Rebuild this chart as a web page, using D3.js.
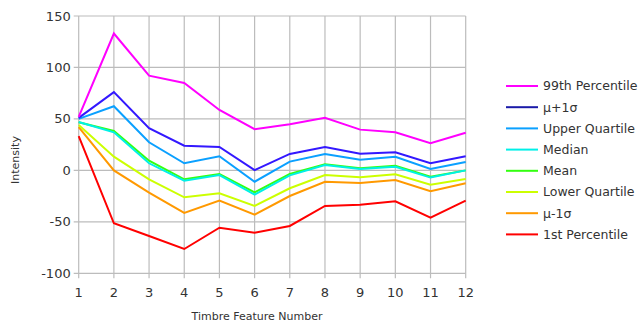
<!DOCTYPE html>
<html><head><meta charset="utf-8">
<script src="https://cdn.jsdelivr.net/npm/d3@7"></script>
<style>body{margin:0;background:#fff;}svg{display:block;font-family:"DejaVu Sans",sans-serif;}</style>
</head><body><svg id="c" width="642" height="324"></svg>
<script>
const features = [1,2,3,4,5,6,7,8,9,10,11,12];
const seriesNames = ["99th Percentile","μ+1σ","Upper Quartile","Median","Mean","Lower Quartile","μ-1σ","1st Percentile"];
const seriesColors = ["#ff00ff","#3318ff","#0aa0ff","#00f0e8","#33ff10","#ccff00","#ff9900","#ff0000"];
const p99   = [52,133,92,85,58.7,40,44.8,51,39.6,37,26.3,36.6];
const muP1  = [51,76,41,24,22.7,0.3,16,22.7,16.2,17.6,6.9,13.7];
const upperQ= [50,62.3,27.3,6.9,13.7,-11,8.5,16,10.4,13.3,1.4,8.2];
const median= [47,37,6.9,-10,-4.5,-23.6,-4.8,5.2,1.4,3.6,-7,0];
const mean  = [46.7,38.3,9.4,-8.7,-3.5,-21.3,-3.5,5.9,2,4.6,-6.1,0];
const lowerQ= [44,13.3,-8.7,-26.2,-22.3,-34.6,-17.4,-4.5,-6.7,-3.8,-13.9,-8.4];
const muM1  = [42,0,-21.7,-41.4,-29.4,-43,-24.9,-11,-12.2,-9.3,-20.3,-12.6];
const p1    = [33.4,-51.4,-63.8,-76.4,-55.7,-60.5,-54,-34.6,-33.3,-30,-46,-29.4];
const allSeries = [p99,muP1,upperQ,median,mean,lowerQ,muM1,p1];
const yTicks = [-100,-50,0,50,100,150];

const svg = d3.select("#c");
const x = d3.scaleLinear().domain([1,12]).range([78.7,465.7]);
const y = d3.scaleLinear().domain([-100,150]).range([273.3,16]);
const grid = "#bcbcbc";
const g = svg.append("g");
g.selectAll(".vg").data(features).join("line")
  .attr("x1",d=>x(d)).attr("x2",d=>x(d)).attr("y1",y(150)).attr("y2",y(-100)+5)
  .attr("stroke",grid).attr("stroke-width",1.2);
g.selectAll(".hg").data(yTicks).join("line")
  .attr("x1",x(1)-5).attr("x2",x(12)).attr("y1",d=>y(d)).attr("y2",d=>y(d))
  .attr("stroke",grid).attr("stroke-width",1.2);
g.selectAll(".yl").data(yTicks).join("text")
  .attr("x",x(1)-8).attr("y",d=>y(d)).attr("dy","0.35em").attr("text-anchor","end")
  .attr("font-size",13).attr("fill","#333").text(d=>d);
g.selectAll(".xl").data(features).join("text")
  .attr("x",d=>x(d)).attr("y",y(-100)+19).attr("dy","0.35em").attr("text-anchor","middle")
  .attr("font-size",13).attr("fill","#333").text(d=>d);
svg.append("text").attr("transform","translate(19,160) rotate(-90)").attr("text-anchor","middle")
  .attr("font-size",11).attr("fill","#333").text("Intensity");
svg.append("text").attr("x",257).attr("y",320).attr("text-anchor","middle")
  .attr("font-size",11).attr("fill","#333").text("Timbre Feature Number");
const line = d3.line().x((d,i)=>x(features[i])).y(d=>y(d));
svg.selectAll(".ln").data(allSeries.map((v,i)=>({v,i})).reverse()).join("path")
  .attr("d",d=>line(d.v)).attr("fill","none").attr("stroke",d=>seriesColors[d.i])
  .attr("stroke-width",2).attr("stroke-linejoin","miter");
const lg = svg.append("g");
seriesNames.forEach((n,i)=>{
  const yy = 86 + i*21.2;
  lg.append("line").attr("x1",506).attr("x2",538).attr("y1",yy).attr("y2",yy)
    .attr("stroke",i===1?"#1a1aa8":seriesColors[i]).attr("stroke-width",2);
  lg.append("text").attr("x",543).attr("y",yy).attr("dy","0.35em").attr("font-size",12.5)
    .attr("fill","#333").text(n);
});
</script></body></html>
